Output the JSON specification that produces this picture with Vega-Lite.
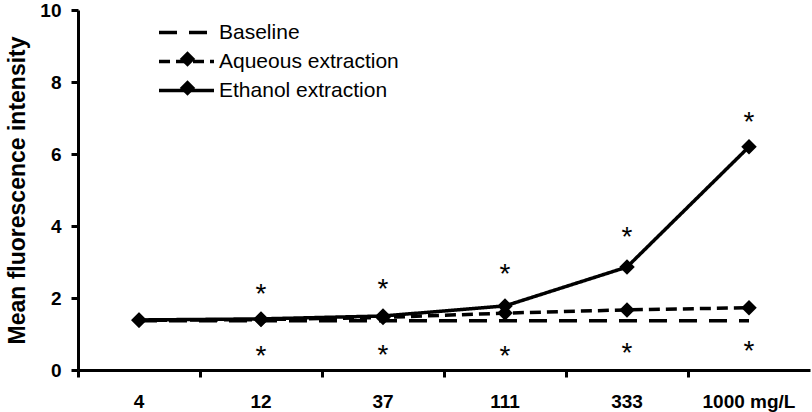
{
  "$schema": "https://vega.github.io/schema/vega-lite/v6.json",
  "width": 732,
  "height": 360,
  "autosize": {"type": "none"},
  "padding": {"left": 78, "top": 10, "right": 2, "bottom": 42},
  "background": "white",
  "config": {
    "view": {"stroke": null},
    "font": "Liberation Sans",
    "axis": {"grid": false, "domainColor": "black", "domainWidth": 3, "tickColor": "black", "tickWidth": 3, "tickSize": 7, "labelFont": "Liberation Sans", "labelFontWeight": "bold", "labelFontSize": 19, "labelColor": "black", "titleFont": "Liberation Sans", "titleFontWeight": "bold", "titleFontSize": 23, "titleColor": "black"}
  },
  "datasets": {
    "series": [
      {"dose": "4", "series": "Baseline", "value": 1.37},
      {"dose": "12", "series": "Baseline", "value": 1.37},
      {"dose": "37", "series": "Baseline", "value": 1.37},
      {"dose": "111", "series": "Baseline", "value": 1.37},
      {"dose": "333", "series": "Baseline", "value": 1.37},
      {"dose": "1000 mg/L", "series": "Baseline", "value": 1.37},
      {"dose": "4", "series": "Aqueous extraction", "value": 1.38},
      {"dose": "12", "series": "Aqueous extraction", "value": 1.4},
      {"dose": "37", "series": "Aqueous extraction", "value": 1.46},
      {"dose": "111", "series": "Aqueous extraction", "value": 1.58},
      {"dose": "333", "series": "Aqueous extraction", "value": 1.67},
      {"dose": "1000 mg/L", "series": "Aqueous extraction", "value": 1.73},
      {"dose": "4", "series": "Ethanol extraction", "value": 1.39},
      {"dose": "12", "series": "Ethanol extraction", "value": 1.42},
      {"dose": "37", "series": "Ethanol extraction", "value": 1.5},
      {"dose": "111", "series": "Ethanol extraction", "value": 1.78},
      {"dose": "333", "series": "Ethanol extraction", "value": 2.86},
      {"dose": "1000 mg/L", "series": "Ethanol extraction", "value": 6.2}
    ],
    "stars": [
      {"dose": "12", "pos": 2.25},
      {"dose": "37", "pos": 2.39},
      {"dose": "111", "pos": 2.8},
      {"dose": "333", "pos": 3.82},
      {"dose": "1000 mg/L", "pos": 7.03},
      {"dose": "12", "pos": 0.53},
      {"dose": "37", "pos": 0.56},
      {"dose": "111", "pos": 0.54},
      {"dose": "333", "pos": 0.6},
      {"dose": "1000 mg/L", "pos": 0.68}
    ]
  },
  "layer": [
    {
      "data": {"name": "series"},
      "mark": {"type": "line", "strokeWidth": 3.5, "color": "black"},
      "encoding": {
        "x": {"field": "dose", "type": "nominal", "sort": null, "scale": {"type": "band", "paddingInner": 0, "paddingOuter": 0}, "axis": {"title": null, "labelAngle": 0, "bandPosition": 0, "labelPadding": 15, "labelOffset": 0, "labelLimit": 200}},
        "y": {"field": "value", "type": "quantitative", "scale": {"domain": [0, 10], "nice": false}, "axis": {"title": "Mean fluorescence intensity", "values": [0, 2, 4, 6, 8, 10], "labelPadding": 10, "titlePadding": 10}},
        "strokeDash": {"field": "series", "type": "nominal", "sort": ["Baseline", "Aqueous extraction", "Ethanol extraction"], "scale": {"domain": ["Baseline", "Aqueous extraction", "Ethanol extraction"], "range": [[18, 12], [11, 6], [1, 0]]}, "legend": {"title": null, "orient": "none", "legendX": 93, "legendY": 7, "symbolType": "M-2,0H2", "symbolSize": 756, "symbolStrokeWidth": 3.5, "symbolStrokeColor": "black", "symbolFillColor": "transparent", "labelFontSize": 21, "labelFont": "Liberation Sans", "labelColor": "black", "labelLimit": 400, "rowPadding": 3, "labelOffset": 17}}
      }
    },
    {
      "data": {"name": "series"},
      "transform": [{"filter": "datum.series !== 'Baseline'"}],
      "mark": {"type": "point", "filled": true, "color": "black", "size": 240, "opacity": 1},
      "encoding": {
        "x": {"field": "dose", "type": "nominal", "sort": null},
        "y": {"field": "value", "type": "quantitative"},
        "shape": {"field": "series", "type": "nominal", "scale": {"domain": ["Aqueous extraction", "Ethanol extraction"], "range": ["diamond", "diamond"]}, "legend": {"title": null, "orient": "none", "legendX": 99, "legendY": 38.5, "symbolFillColor": "black", "symbolStrokeColor": "black", "symbolSize": 240, "labelFontSize": 21, "labelFont": "Liberation Sans", "labelOpacity": 0, "labelLimit": 400, "rowPadding": 6, "labelOffset": 6}}
      }
    },
    {
      "data": {"name": "stars"},
      "mark": {"type": "text", "text": "*", "fontSize": 28, "font": "Liberation Sans", "color": "black", "baseline": "middle", "dy": 6},
      "encoding": {
        "x": {"field": "dose", "type": "nominal", "sort": null},
        "y": {"field": "pos", "type": "quantitative"}
      }
    }
  ]
}
